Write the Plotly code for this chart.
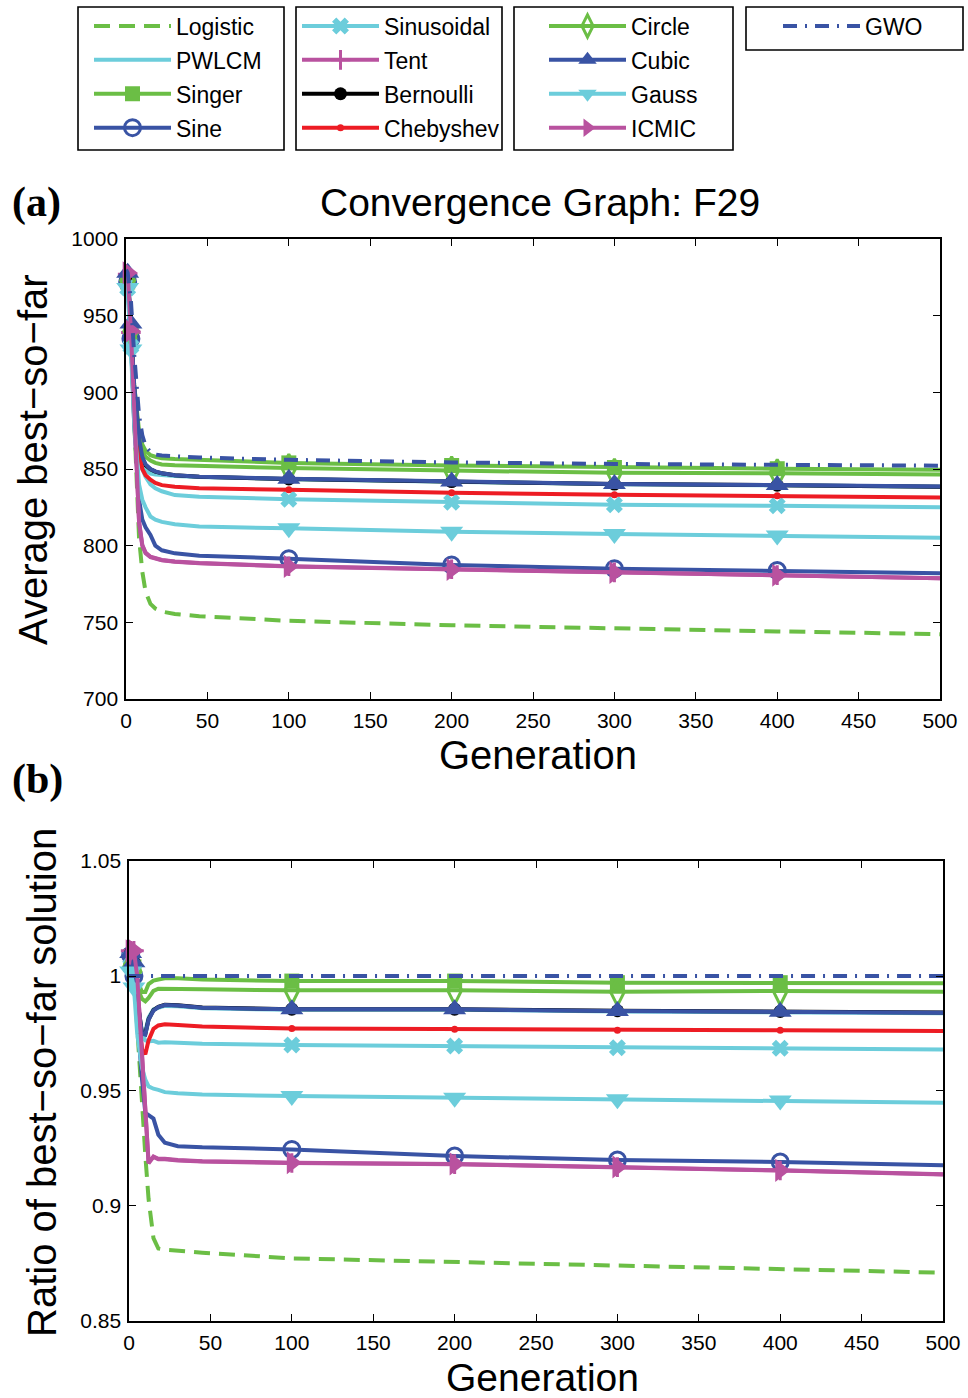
import plotly.graph_objects as go

# ---------------- data ----------------
GEN = [0, 1, 3, 5, 8, 10, 12, 15, 18, 22, 30, 45, 100, 200, 300, 400, 500]
MARK_GEN = [1, 3, 100, 200, 300, 400]
X_TICKS = [0, 50, 100, 150, 200, 250, 300, 350, 400, 450, 500]
Y_TICKS_TOP = [700, 750, 800, 850, 900, 950, 1000]
Y_TICKS_BOT = [0.85, 0.9, 0.95, 1.0, 1.05]
Y_TICKTEXT_BOT = ["0.85", "0.9", "0.95", "1", "1.05"]

NAMES = ["Logistic", "PWLCM", "Singer", "Sine", "Sinusoidal", "Tent", "Bernoulli",
         "Chebyshev", "Circle", "Cubic", "Gauss", "ICMIC", "GWO"]

# (a) average best-so-far
top_logistic   = [978, 975, 935, 880, 805, 783, 770, 762, 759, 757, 755.5, 754, 751, 748.1, 745.8, 744.1, 742.3]
top_pwlcm      = [976, 972, 935, 895, 862, 852, 849, 847, 846.5, 846, 845.5, 844.8, 843.4, 841.7, 840.1, 839.4, 838.4]
top_singer     = [975, 972, 938, 905, 875, 866, 862, 859, 858, 857, 856.5, 856, 854, 852.3, 851, 850.2, 849.5]
top_sine       = [975, 972, 935, 880, 830, 817, 812, 807, 800, 797, 795, 793.5, 791.5, 787.4, 785, 783.8, 782]
top_sinusoidal = [975, 968, 930, 890, 858, 850, 845, 840, 837.5, 835.5, 833, 832, 830.3, 828.3, 826.7, 826, 825]
top_tent       = [977, 977, 939, 884, 816, 800.5, 795.5, 792.8, 791.7, 790.7, 789.7, 788.7, 786.6, 784.6, 782.6, 780.8, 778.8]
top_bernoulli  = [979, 977, 944, 903, 868, 857, 852.5, 849.8, 848.3, 847.2, 845.9, 844.9, 843.5, 841.8, 840.2, 839.5, 838.5]
top_chebyshev  = [978, 975, 940, 900, 862, 850, 846, 843, 841, 839.5, 838.5, 837.5, 836.5, 834.5, 833.2, 832.5, 831.5]
top_circle     = [976, 973, 940, 902, 870, 862, 858, 855.5, 854, 853, 852.5, 852, 850.6, 849, 847.5, 847.2, 846.5]
top_cubic      = [980, 978, 945, 905, 870, 858, 853, 850, 848.5, 847.3, 846, 845, 843.6, 841.9, 840.3, 839.6, 838.6]
top_gauss      = [970, 968, 928, 880, 840, 830, 825, 819, 817, 815.5, 814, 812.5, 811.3, 809.1, 807.6, 806.6, 805.2]
top_icmic      = [978, 978, 940, 885, 815, 800, 795, 792.5, 791.5, 790.5, 789.5, 788.5, 786.5, 784.5, 782.5, 780.7, 778.7]
top_gwo        = [980, 978, 960, 925, 885, 872, 865, 861, 859.5, 858.8, 858.3, 857.5, 856, 854.3, 853.3, 852.8, 852.2]

# (b) ratio of best-so-far solution
bot_logistic   = [1.0, 1.003, 1.0, 0.975, 0.945, 0.922, 0.903, 0.886, 0.8815, 0.881, 0.8805, 0.8797, 0.8772, 0.8757, 0.874, 0.8725, 0.871]
bot_pwlcm      = [1.002, 1.006, 1.002, 0.985, 0.972, 0.976, 0.982, 0.9855, 0.9862, 0.987, 0.9868, 0.986, 0.9853, 0.9853, 0.9846, 0.9843, 0.9838]
bot_singer     = [1.0, 1.005, 1.004, 0.998, 0.993, 0.993, 0.9965, 0.998, 0.9985, 0.999, 0.999, 0.9985, 0.9978, 0.9978, 0.9971, 0.9971, 0.9968]
bot_sine       = [1.003, 1.009, 1.0, 0.98, 0.955, 0.9405, 0.9395, 0.938, 0.931, 0.9275, 0.926, 0.9255, 0.9246, 0.9217, 0.92, 0.9191, 0.9177]
bot_sinusoidal = [0.998, 1.008, 1.003, 0.985, 0.975, 0.972, 0.9715, 0.9718, 0.971, 0.9712, 0.971, 0.9705, 0.97, 0.9696, 0.9688, 0.9686, 0.9681]
bot_tent       = [1.005, 1.011, 1.011, 0.999, 0.966, 0.941, 0.919, 0.9213, 0.9203, 0.9203, 0.9198, 0.9193, 0.9187, 0.9182, 0.9169, 0.9154, 0.9137]
bot_bernoulli  = [1.005, 1.01, 1.006, 0.99, 0.975, 0.9748, 0.9812, 0.9852, 0.9866, 0.9875, 0.9873, 0.9863, 0.9856, 0.9856, 0.9849, 0.9846, 0.9841]
bot_chebyshev  = [1.0, 1.008, 1.004, 0.985, 0.968, 0.966, 0.972, 0.977, 0.9785, 0.979, 0.9787, 0.978, 0.9772, 0.9768, 0.9764, 0.9764, 0.9761]
bot_circle     = [1.0, 1.004, 1.002, 0.995, 0.99, 0.989, 0.9905, 0.9935, 0.9945, 0.9945, 0.9943, 0.9942, 0.9938, 0.9938, 0.9932, 0.9935, 0.9932]
bot_cubic      = [1.005, 1.01, 1.006, 0.99, 0.975, 0.9745, 0.981, 0.985, 0.9865, 0.9874, 0.9872, 0.9862, 0.9855, 0.9855, 0.9848, 0.9845, 0.984]
bot_gauss      = [0.997, 1.002, 0.995, 0.975, 0.96, 0.955, 0.952, 0.951, 0.9505, 0.9495, 0.949, 0.9485, 0.9478, 0.9471, 0.9464, 0.9459, 0.9449]
bot_icmic      = [1.005, 1.011, 1.011, 1.0, 0.965, 0.94, 0.9185, 0.9215, 0.9205, 0.9205, 0.92, 0.9195, 0.9188, 0.9183, 0.917, 0.9155, 0.9138]
bot_gwo        = [1.0, 1.0, 1.0, 1.0, 1.0, 1.0, 1.0, 1.0, 1.0, 1.0, 1.0, 1.0, 1.0, 1.0, 1.0, 1.0, 1.0]

TOP = [top_logistic, top_pwlcm, top_singer, top_sine, top_sinusoidal, top_tent, top_bernoulli,
       top_chebyshev, top_circle, top_cubic, top_gauss, top_icmic, top_gwo]
BOT = [bot_logistic, bot_pwlcm, bot_singer, bot_sine, bot_sinusoidal, bot_tent, bot_bernoulli,
       bot_chebyshev, bot_circle, bot_cubic, bot_gauss, bot_icmic, bot_gwo]

# ---------------- styles ----------------
GREEN = "#6BBE45"
CYAN = "#6CCDDB"
BLUE = "#3953A4"
MAGENTA = "#B9529F"
RED = "#ED1C24"
BLACK = "#000000"

STYLE = {
    "Logistic":   dict(color=GREEN,   dash="16px,9px", symbol=None, size=0, open=False),
    "PWLCM":      dict(color=CYAN,    dash="solid", symbol=None, size=0, open=False),
    "Singer":     dict(color=GREEN,   dash="solid", symbol="square", size=15, open=False),
    "Sine":       dict(color=BLUE,    dash="solid", symbol="circle-open", size=16, open=True),
    "Sinusoidal": dict(color=CYAN,    dash="solid", symbol="x", size=15, open=False),
    "Tent":       dict(color=MAGENTA, dash="solid", symbol="cross-thin-open", size=14, open=True),
    "Bernoulli":  dict(color=BLACK,   dash="solid", symbol="circle", size=13, open=False),
    "Chebyshev":  dict(color=RED,     dash="solid", symbol="circle", size=7, open=False),
    "Circle":     dict(color=GREEN,   dash="solid", symbol="diamond-tall-open", size=20, open=True),
    "Cubic":      dict(color=BLUE,    dash="solid", symbol="triangle-up", size=20, open=False),
    "Gauss":      dict(color=CYAN,    dash="solid", symbol="triangle-down", size=20, open=False),
    "ICMIC":      dict(color=MAGENTA, dash="solid", symbol="triangle-right", size=20, open=False),
    "GWO":        dict(color=BLUE,    dash="14px,8px,2px,8px", symbol=None, size=0, open=False),
}
LEGEND_OF = {n: ("legend" if i < 4 else "legend2" if i < 8 else "legend3" if i < 12 else "legend4")
             for i, n in enumerate(NAMES)}

LW = 4
fig = go.Figure()


def marker_dict(st):
    if st["open"]:
        return dict(symbol=st["symbol"], size=st["size"], color=st["color"],
                    line=dict(color=st["color"], width=3))
    return dict(symbol=st["symbol"], size=st["size"], color=st["color"], line=dict(width=0))


for xa, ya, data in (("x", "y", TOP), ("x2", "y2", BOT)):
    for name, ys in zip(NAMES, data):
        st = STYLE[name]
        fig.add_trace(go.Scatter(x=GEN, y=ys, mode="lines", xaxis=xa, yaxis=ya,
                                 line=dict(color=st["color"], width=LW, dash=st["dash"]),
                                 showlegend=False, hoverinfo="skip"))
        if st["symbol"]:
            mx = [g for g in GEN if g in MARK_GEN]
            my = [v for g, v in zip(GEN, ys) if g in MARK_GEN]
            fig.add_trace(go.Scatter(x=mx, y=my, mode="markers", xaxis=xa, yaxis=ya,
                                     marker=marker_dict(st), showlegend=False,
                                     hoverinfo="skip", cliponaxis=False))

# legend entries
for name in NAMES:
    st = STYLE[name]
    mode = "lines+markers" if st["symbol"] else "lines"
    kw = dict(marker=marker_dict(st)) if st["symbol"] else {}
    fig.add_trace(go.Scatter(x=[None], y=[None], mode=mode, name=name, legendgroup=name,
                             line=dict(color=st["color"], width=LW, dash=st["dash"]),
                             legend=LEGEND_OF[name], showlegend=True, **kw))

FONT = "Liberation Sans"
leg_common = dict(xanchor="left", yanchor="top", borderwidth=0,
                  bgcolor="rgba(0,0,0,0)", font=dict(family=FONT, size=23, color="black"),
                  itemwidth=77, tracegroupgap=1, traceorder="grouped")

axis_common = dict(showline=True, linecolor="black", linewidth=1.5, mirror="ticks",
                   ticks="inside", ticklen=7, tickwidth=1.2, tickcolor="black",
                   showgrid=False, zeroline=False, ticklabelstandoff=2,
                   tickfont=dict(family=FONT, size=21, color="black"))

LEG_Y = 1 - 4.5 / 1398
fig.update_layout(
    width=968, height=1398, autosize=False,
    margin=dict(l=0, r=0, t=0, b=0, autoexpand=False),
    paper_bgcolor="white", plot_bgcolor="white",
    xaxis=dict(domain=[0.1302, 0.9711], anchor="y", range=[0, 500], tickvals=X_TICKS, **axis_common),
    yaxis=dict(domain=[0.5, 0.829], anchor="x", range=[700, 1000], tickvals=Y_TICKS_TOP, **axis_common),
    xaxis2=dict(domain=[0.1333, 0.9742], anchor="y2", range=[0, 500], tickvals=X_TICKS, **axis_common),
    yaxis2=dict(domain=[0.0551, 0.3841], anchor="x2", range=[0.85, 1.05], tickvals=Y_TICKS_BOT,
                ticktext=Y_TICKTEXT_BOT, **axis_common),
    legend=dict(x=89 / 968, y=LEG_Y, **leg_common),
    legend2=dict(x=297 / 968, y=LEG_Y, **leg_common),
    legend3=dict(x=544 / 968, y=LEG_Y, **leg_common),
    legend4=dict(x=778 / 968, y=LEG_Y, **leg_common),
    showlegend=True,
)

# legend frames
for x0, y0, x1, y1 in ((78, 7, 284, 150), (296, 7, 502, 150), (514, 7, 733, 150), (746, 7, 963, 50)):
    fig.add_shape(type="rect", xref="paper", yref="paper",
                  x0=x0 / 968, x1=x1 / 968, y0=1 - y1 / 1398, y1=1 - y0 / 1398,
                  line=dict(color="black", width=1.6), fillcolor="rgba(0,0,0,0)", layer="above")

ann = [
    dict(text="<b>(a)</b>", x=10 / 968, y=1 - 203 / 1398, xanchor="left", yanchor="middle",
         font=dict(family="Liberation Serif", size=42, color="black")),
    dict(text="Convergence Graph: F29", x=540 / 968, y=1 - 203 / 1398, xanchor="center", yanchor="middle",
         font=dict(family=FONT, size=39, color="black")),
    dict(text="Average best−so−far", x=33 / 968, y=1 - 460 / 1398, textangle=-90,
         xanchor="center", yanchor="middle", font=dict(family=FONT, size=40, color="black")),
    dict(text="Generation", x=538 / 968, y=1 - 755 / 1398, xanchor="center", yanchor="middle",
         font=dict(family=FONT, size=40, color="black")),
    dict(text="<b>(b)</b>", x=10 / 968, y=1 - 780 / 1398, xanchor="left", yanchor="middle",
         font=dict(family="Liberation Serif", size=42, color="black")),
    dict(text="Ratio of best−so−far solution", x=42 / 968, y=1 - 1083 / 1398, textangle=-90,
         xanchor="center", yanchor="middle", font=dict(family=FONT, size=40, color="black")),
    dict(text="Generation", x=542 / 968, y=1 - 1377 / 1398, xanchor="center", yanchor="middle",
         font=dict(family=FONT, size=39, color="black")),
]
for a in ann:
    a.update(xref="paper", yref="paper", showarrow=False)
fig.update_layout(annotations=ann)

fig.write_html("out.html", config={"displayModeBar": False},
               post_script="document.body.style.margin='0px';document.body.style.padding='0px';")
